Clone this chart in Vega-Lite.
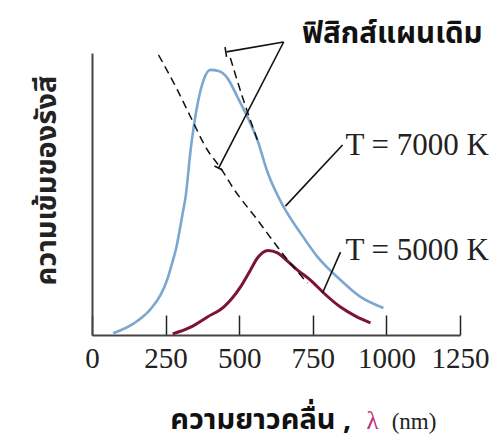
{
  "$schema": "https://vega.github.io/schema/vega-lite/v6.json",
  "width": 368,
  "height": 282,
  "autosize": {"type": "none"},
  "padding": {"left": 92, "top": 53, "right": 44, "bottom": 108},
  "background": "white",
  "config": {"view": {"stroke": null}},
  "datasets": {
    "blue": [
      {"nm": 72, "I": 0.6}, {"nm": 142, "I": 4.1}, {"nm": 199, "I": 9.2}, {"nm": 233, "I": 14.2},
      {"nm": 255, "I": 19.5}, {"nm": 272, "I": 25.4}, {"nm": 287, "I": 31.3}, {"nm": 298, "I": 37.2},
      {"nm": 308, "I": 43.2}, {"nm": 318, "I": 49.0}, {"nm": 335, "I": 65.6},
      {"nm": 357, "I": 81.0}, {"nm": 379, "I": 90.4}, {"nm": 402, "I": 94.0}, {"nm": 430, "I": 93.6},
      {"nm": 460, "I": 91.1}, {"nm": 494, "I": 84.4}, {"nm": 528, "I": 77.3}, {"nm": 562, "I": 69.1},
      {"nm": 596, "I": 57.8}, {"nm": 651, "I": 45.4}, {"nm": 708, "I": 36.2}, {"nm": 766, "I": 27.7},
      {"nm": 844, "I": 19.5}, {"nm": 912, "I": 13.5}, {"nm": 990, "I": 9.6}
    ],
    "red": [
      {"nm": 274, "I": 0.4}, {"nm": 335, "I": 2.8}, {"nm": 392, "I": 6.4}, {"nm": 447, "I": 9.9},
      {"nm": 504, "I": 17.0}, {"nm": 538, "I": 23.0}, {"nm": 562, "I": 27.3}, {"nm": 598, "I": 30.0},
      {"nm": 630, "I": 29.1}, {"nm": 664, "I": 26.2}, {"nm": 698, "I": 23.0}, {"nm": 742, "I": 19.5},
      {"nm": 787, "I": 14.9}, {"nm": 844, "I": 9.9}, {"nm": 895, "I": 6.7}, {"nm": 946, "I": 4.3}
    ],
    "dash": [
      {"g": "a", "nm": 226, "I": 99.3}, {"g": "a", "nm": 290, "I": 86.9}, {"g": "a", "nm": 335, "I": 77.3},
      {"g": "a", "nm": 392, "I": 65.6}, {"g": "a", "nm": 437, "I": 59.2}, {"g": "a", "nm": 477, "I": 52.5},
      {"g": "a", "nm": 562, "I": 40.8}, {"g": "a", "nm": 651, "I": 28.4}, {"g": "a", "nm": 732, "I": 18.4},
      {"g": "b", "nm": 470, "I": 98.2}, {"g": "b", "nm": 511, "I": 84.4}, {"g": "b", "nm": 562, "I": 69.1}
    ],
    "leaders": [
      {"g": "a", "nm": 651, "I": 103.9}, {"g": "a", "nm": 457, "I": 100.4},
      {"g": "at", "nm": 452, "I": 102.1}, {"g": "at", "nm": 457, "I": 98.6},
      {"g": "b", "nm": 651, "I": 103.9}, {"g": "b", "nm": 430, "I": 59.2},
      {"g": "bt", "nm": 416, "I": 59.9}, {"g": "bt", "nm": 443, "I": 58.5},
      {"g": "c", "nm": 851, "I": 67.4}, {"g": "c", "nm": 657, "I": 45.7},
      {"g": "d", "nm": 844, "I": 29.4}, {"g": "d", "nm": 783, "I": 14.9}
    ],
    "tempLabels": [
      {"nm": 861, "I": 63.8, "text": "T = 7000 K"},
      {"nm": 861, "I": 26.6, "text": "T = 5000 K"}
    ],
    "classical": [{"nm": 1020, "I": 103.5, "text": "ฟิสิกส์แผนเดิม"}],
    "xtitle": [{"nm": 881, "I": -33.3, "text": "ความยาวคลื่น ,"}],
    "lambda": [{"nm": 932, "I": -33.3, "text": "λ"}],
    "unit": [{"nm": 1018, "I": -33.3, "text": "(nm)"}]
  },
  "encoding": {
    "x": {
      "field": "nm", "type": "quantitative",
      "scale": {"domain": [0, 1250], "nice": false, "zero": false},
      "axis": {
        "values": [0, 250, 500, 750, 1000, 1250], "format": "d",
        "grid": false, "title": null,
        "domainColor": "#444", "domainWidth": 2,
        "tickColor": "#222", "tickWidth": 1.5, "tickSize": -20,
        "labelFont": "Liberation Serif", "labelFontSize": 29, "labelColor": "#222",
        "labelPadding": 52, "labelBaseline": "alphabetic", "labelFlush": false, "labelOverlap": false
      }
    },
    "y": {
      "field": "I", "type": "quantitative",
      "scale": {"domain": [0, 100], "nice": false, "zero": false},
      "axis": {
        "grid": false, "ticks": false, "labels": false,
        "domainColor": "#444", "domainWidth": 2,
        "title": "ความเข้มของรังสี",
        "titleFont": "Noto Sans Thai", "titleFontSize": 29, "titleFontWeight": "bold", "titleColor": "#222",
        "titleX": -37, "titleY": 127, "titleAngle": 270, "titleAlign": "center", "titleBaseline": "alphabetic"
      }
    }
  },
  "layer": [
    {
      "data": {"name": "blue"},
      "mark": {"type": "line", "color": "#7ba7d0", "strokeWidth": 2.6, "interpolate": "monotone"}
    },
    {
      "data": {"name": "red"},
      "mark": {"type": "line", "color": "#7b1436", "strokeWidth": 3, "interpolate": "monotone"}
    },
    {
      "data": {"name": "dash"},
      "mark": {"type": "line", "color": "#111", "strokeWidth": 1.5, "strokeDash": [8, 5], "interpolate": "monotone"},
      "encoding": {"detail": {"field": "g"}}
    },
    {
      "data": {"name": "leaders"},
      "mark": {"type": "line", "color": "#111", "strokeWidth": 1.6},
      "encoding": {"detail": {"field": "g"}}
    },
    {
      "data": {"name": "tempLabels"},
      "mark": {"type": "text", "font": "Liberation Serif", "fontSize": 31, "align": "left", "baseline": "alphabetic", "color": "#222"},
      "encoding": {"text": {"field": "text"}}
    },
    {
      "data": {"name": "classical"},
      "mark": {"type": "text", "font": "Noto Sans Thai", "fontSize": 29.5, "fontWeight": "bold", "align": "center", "baseline": "alphabetic", "color": "#111"},
      "encoding": {"text": {"field": "text"}}
    },
    {
      "data": {"name": "xtitle"},
      "mark": {"type": "text", "font": "Noto Sans Thai", "fontSize": 29, "fontWeight": "bold", "align": "right", "baseline": "alphabetic", "color": "#111"},
      "encoding": {"text": {"field": "text"}}
    },
    {
      "data": {"name": "lambda"},
      "mark": {"type": "text", "font": "Liberation Serif", "fontSize": 25, "align": "left", "baseline": "alphabetic", "color": "#c0307a"},
      "encoding": {"text": {"field": "text"}}
    },
    {
      "data": {"name": "unit"},
      "mark": {"type": "text", "font": "Liberation Serif", "fontSize": 23, "align": "left", "baseline": "alphabetic", "color": "#222"},
      "encoding": {"text": {"field": "text"}}
    }
  ]
}
